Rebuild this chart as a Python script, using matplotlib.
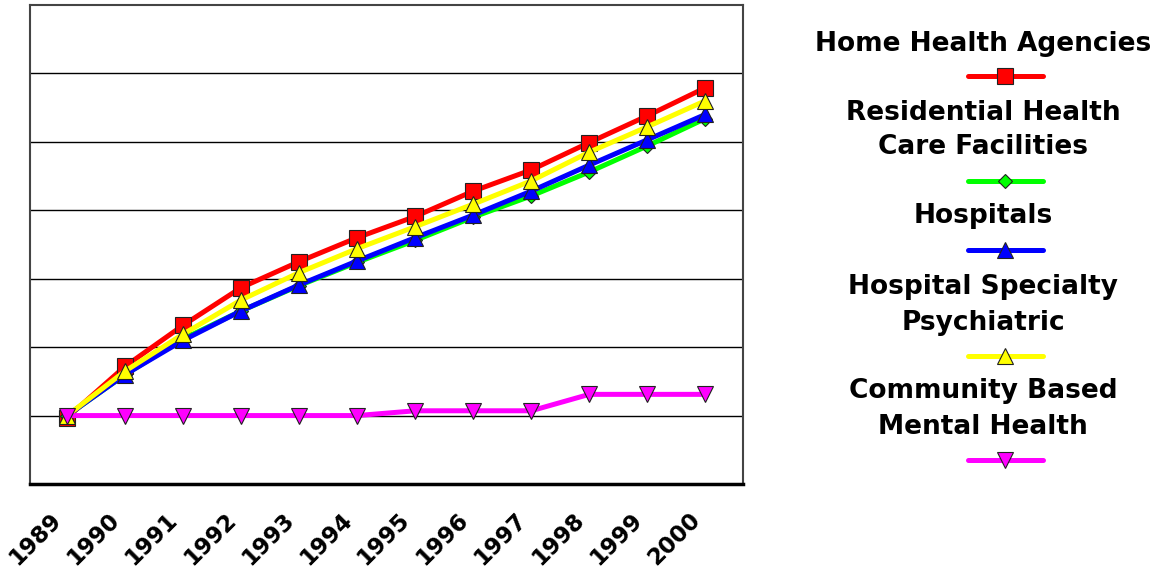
import matplotlib.pyplot as plt
import matplotlib.transforms as mtransforms
from matplotlib.lines import Line2D

years = ['1989', '1990', '1991', '1992', '1993', '1994',
         '1995', '1996', '1997', '1998', '1999', '2000']

home_health = [-0.03, 0.72, 1.32, 1.87, 2.25, 2.60, 2.91, 3.28, 3.59, 3.99, 4.38, 4.79]
residential = [0.00, 0.60, 1.12, 1.53, 1.90, 2.24, 2.56, 2.90, 3.21, 3.56, 3.94, 4.34]
hospitals = [0.00, 0.60, 1.10, 1.53, 1.91, 2.26, 2.60, 2.93, 3.28, 3.66, 4.03, 4.40]
psychiatric = [0.00, 0.65, 1.19, 1.69, 2.09, 2.44, 2.76, 3.09, 3.43, 3.85, 4.22, 4.60]
community = [0.00, 0.00, 0.00, 0.00, 0.00, 0.00, 0.07, 0.07, 0.07, 0.31, 0.31, 0.31]

# label, values, colour, marker, marker size
series = [
    ('Home Health Agencies', home_health, '#ff0000', 's', 12),
    ('Residential Health\nCare Facilities', residential, '#00ff00', 'D', 7),
    ('Hospitals', hospitals, '#0000ff', '^', 11),
    ('Hospital Specialty\nPsychiatric', psychiatric, '#ffff00', '^', 11),
    ('Community Based\nMental Health', community, '#ff00ff', 'v', 11),
]

W, H = 1159, 577
fig = plt.figure(figsize=(W / 100, H / 100), dpi=100)
ax = fig.add_axes([30 / W, 1 - 484 / H, (743 - 30) / W, (484 - 5) / H])

x = list(range(len(years)))
for i, (label, vals, color, marker, ms) in enumerate(series):
    ax.plot(x, vals, color=color, lw=3.6, marker=marker, markersize=ms,
            markerfacecolor=color, markeredgecolor='#222222', markeredgewidth=0.8,
            zorder=3 + i)

ax.set_xlim(-0.64, 11.65)
ax.set_ylim(-1, 6)
ax.set_yticks(range(0, 6))
ax.set_yticklabels([])
ax.tick_params(axis='y', length=0)
ax.yaxis.grid(True, color='black', lw=1.0)
ax.set_axisbelow(True)

ax.set_xticks(x)
ax.set_xticklabels(years, rotation=45, ha='right', va='top', rotation_mode='anchor',
                   fontsize=16.5, fontweight='bold')
ax.tick_params(axis='x', length=0, pad=11)
# nudge the slanted year labels down-left so they end under each point
shift = mtransforms.ScaledTranslation(-0.17, -0.09, fig.dpi_scale_trans)
for lbl in ax.get_xticklabels():
    lbl.set_transform(lbl.get_transform() + shift)

for side in ['left', 'top', 'right']:
    ax.spines[side].set_color('#444444')
    ax.spines[side].set_linewidth(1.5)
ax.spines['bottom'].set_color('black')
ax.spines['bottom'].set_linewidth(2.5)

# legend: label text centred above a short sample line
lax = fig.add_axes([0, 0, 1, 1])
lax.set_xlim(0, W)
lax.set_ylim(H, 0)
lax.axis('off')
entries = [(44, 76), (130, 181), (216, 250), (305, 356), (409, 460)]
for (label, vals, color, marker, ms), (ty, ly) in zip(series, entries):
    lax.text(983, ty, label, ha='center', va='center', fontsize=19,
             fontweight='bold', linespacing=1.45)
    lax.add_line(Line2D([968, 1043], [ly, ly], color=color, lw=3.6,
                        solid_capstyle='round'))
    lax.add_line(Line2D([1005], [ly], marker=marker, markersize=ms,
                        markerfacecolor=color, markeredgecolor='#222222',
                        markeredgewidth=0.8, lw=0))

fig.savefig('out.png', dpi=100)
